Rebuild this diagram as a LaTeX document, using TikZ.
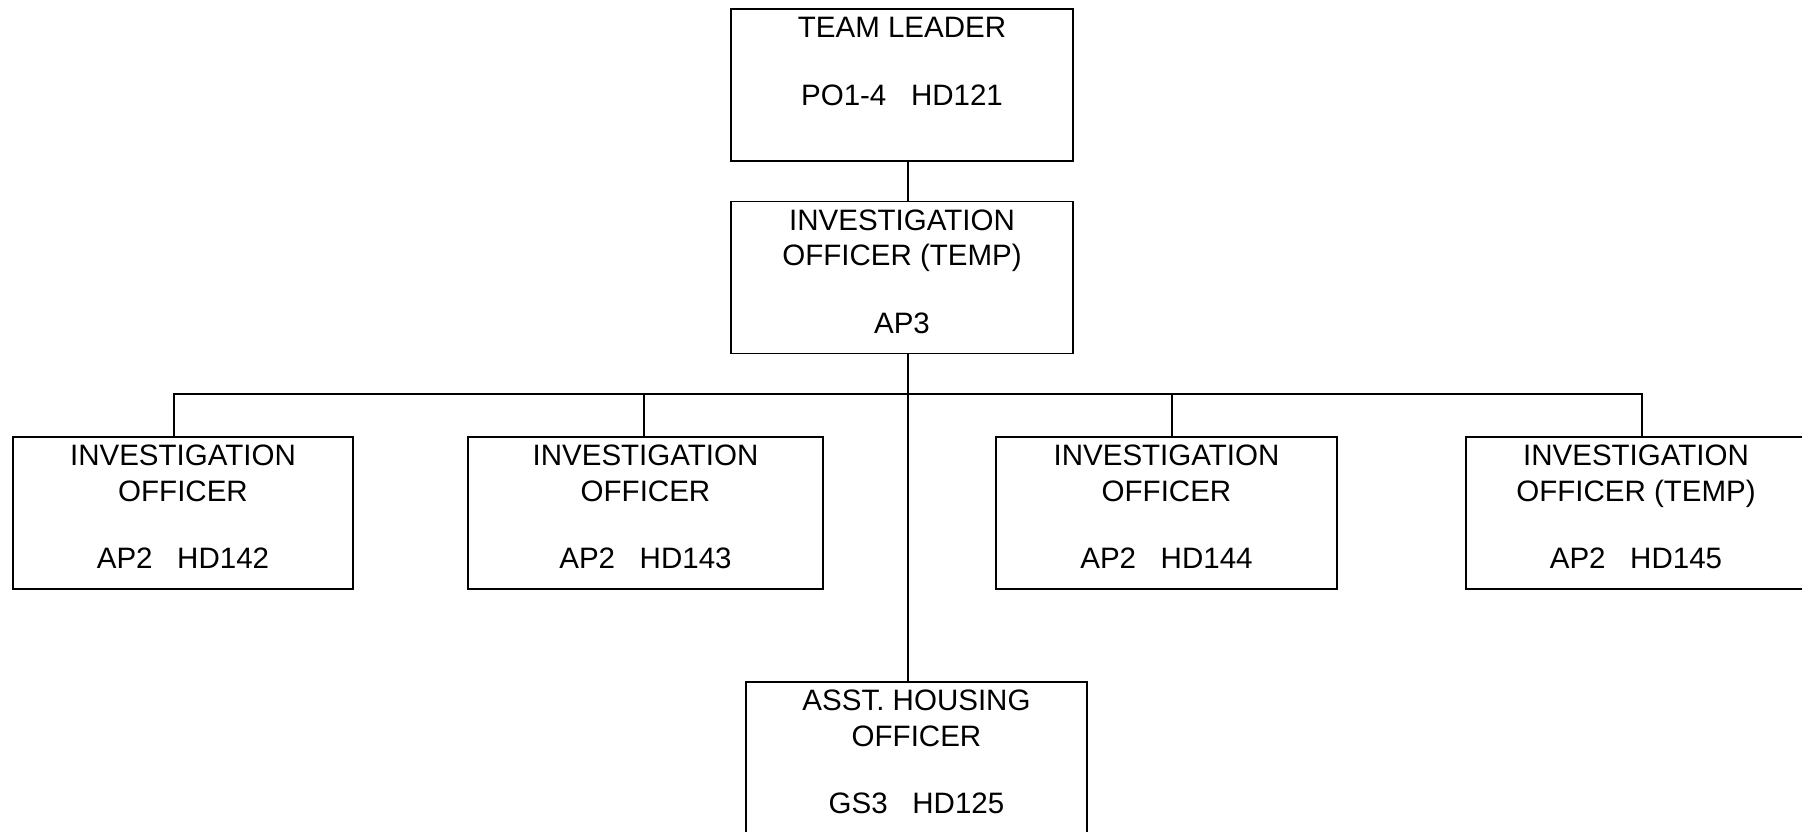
\documentclass[tikz,border=0pt]{standalone}
\usepackage{fontspec}
\setmainfont{Liberation Sans}
\newcommand{\posttext}[2]{\parbox[c][3.04cm][t]{#1}{\centering\rule{0pt}{0.58cm}#2}}

\begin{document}
\begin{tikzpicture}[
post/.style={draw,line width=1pt,inner sep=0pt,outer sep=0pt,
font=\fontsize{16.8}{20}\selectfont},
link/.style={line width=1pt}]
\clip (0,0) rectangle (36.04,-16.64);
\node[post] (lead) at (18.04,-1.70) {\posttext{6.84cm}{TEAM LEADER\\[18.5pt]PO1-4~~~HD121}};
\node[post] (iot) at (18.04,-5.55) {\posttext{6.84cm}{INVESTIGATION\\OFFICER (TEMP)\\[18.5pt]AP3}};
\node[post] (io1) at (3.66,-10.26) {\posttext{6.80cm}{INVESTIGATION\\OFFICER\\[18.5pt]AP2~~~HD142}};
\node[post] (io2) at (12.91,-10.26) {\posttext{7.10cm}{INVESTIGATION\\OFFICER\\[18.5pt]AP2~~~HD143}};
\node[post] (io3) at (23.33,-10.26) {\posttext{6.82cm}{INVESTIGATION\\OFFICER\\[18.5pt]AP2~~~HD144}};
\node[post] (io4) at (32.72,-10.26) {\posttext{6.80cm}{INVESTIGATION\\OFFICER (TEMP)\\[18.5pt]AP2~~~HD145}};
\node[post] (aho) at (18.33,-15.16) {\posttext{6.82cm}{ASST. HOUSING\\OFFICER\\[18.5pt]GS3~~~HD125}};
\coordinate (bus) at (18.16,-7.88);
\draw[link] ([xshift=0.12cm]lead.south) -- ([xshift=0.12cm]iot.north);
\draw[link] ([xshift=0.12cm]iot.south) -- ([xshift=-0.17cm]aho.north);
\foreach \n/\dx in {1/-0.18,2/-0.03,3/0.11,4/0.12}{
\draw[link] ([xshift=\dx cm]io\n.north) |- (bus);
}
\end{tikzpicture}
\end{document}
